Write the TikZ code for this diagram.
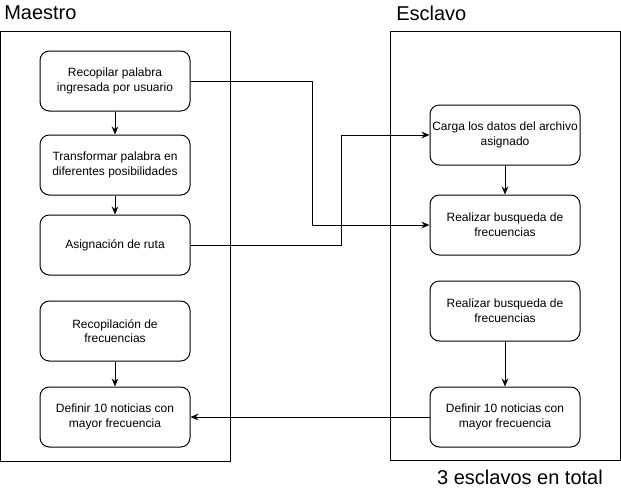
\documentclass[tikz,border=0pt]{standalone}
\usepackage{fontspec}
\setmainfont{Liberation Sans}
\usetikzlibrary{arrows.meta}
\begin{document}
\begin{tikzpicture}[x=0.75pt,y=-0.75pt,
  container/.style={draw=black,line width=0.75pt},
  procbox/.style={draw=black,line width=0.75pt,rounded corners=7pt,minimum width=112.5pt,minimum height=45pt,
    align=center,font=\fontsize{9}{11}\selectfont,inner sep=1pt},
  title/.style={font=\fontsize{15}{18}\selectfont,inner sep=0pt},
  flow/.style={draw=black,line width=0.75pt,-{Stealth[length=6pt,width=5pt]}}]
\useasboundingbox (0,0) rectangle (621,487);
\draw[container] (0.5,31) rectangle (230,461);
\draw[container] (390,31) rectangle (620,460);
\node[title,anchor=west] (maestro) at (4,13) {Maestro};
\node[title,anchor=west] (esclavo) at (396,13) {Esclavo};
\node[title] (total) at (520,477) {3 esclavos en total};
\node[procbox] (B1) at (115,81) {Recopilar palabra\\ingresada por usuario};
\node[procbox] (B2) at (115,165) {Transformar palabra en\\diferentes posibilidades};
\node[procbox] (B3) at (115,245) {Asignación de ruta};
\node[procbox] (B4) at (115,331) {Recopilación de\\frecuencias};
\node[procbox] (B5) at (115,417) {Definir 10 noticias con\\mayor frecuencia};
\node[procbox] (R1) at (505,135) {Carga los datos del archivo\\asignado};
\node[procbox] (R2) at (505,225) {Realizar busqueda de\\frecuencias};
\node[procbox] (R3) at (505,311) {Realizar busqueda de\\frecuencias};
\node[procbox] (R4) at (505,417) {Definir 10 noticias con\\mayor frecuencia};
\coordinate (c1) at (312,0);
\coordinate (c2) at (341,0);
\draw[flow] (B1) -- (B2);
\draw[flow] (B2) -- (B3);
\draw[flow] (B4) -- (B5);
\draw[flow] (R1) -- (R2);
\draw[flow] (R3) -- (R4);
\draw[flow] (B1.east) -| (c1 |- R2.west) -- (R2.west);
\draw[flow] (B3.east) -| (c2 |- R1.west) -- (R1.west);
\draw[flow] (R4.west) -- (B5.east);
\end{tikzpicture}
\end{document}
